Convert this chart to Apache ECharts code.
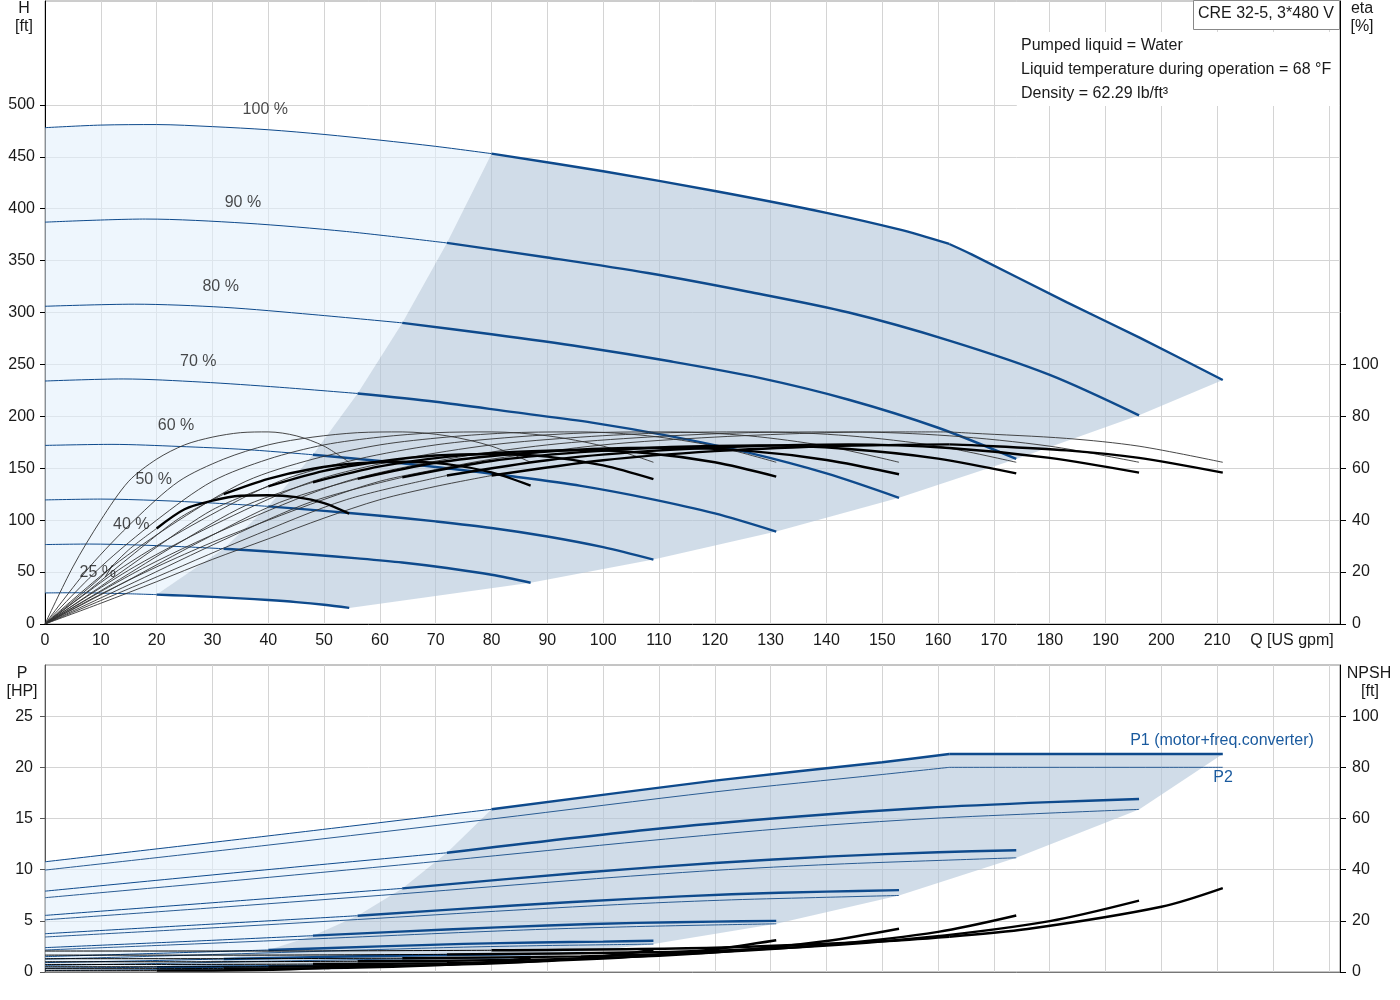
<!DOCTYPE html>
<html><head><meta charset="utf-8">
<script src="https://cdn.jsdelivr.net/npm/echarts@6/dist/echarts.min.js"></script>
<style>html,body{margin:0;padding:0;background:#fff}#c{width:1400px;height:1000px}</style>
</head><body><div id="c"></div>
<script>
// ---------- data ----------
const speedLabels = ['100 %','90 %','80 %','70 %','60 %','50 %','40 %','25 %'];
const boldStartQ  = [80, 72, 64, 56, 48, 40, 32, 20];
const powerLimitQ = 162;   // flow where the 100 % curves bend (power limit)

// top chart: head [ft] and efficiency [%] vs Q [US gpm]
const flow100     = [0,10,20,30,40,50,60,70,80,100,120,140,153,162,166,183,196,211];
const head100     = [478,480.5,481,479,476,471.5,466,460,453,436,417,396,380,366,356,310,276,235];
const etaPump100  = [0,11.5,22,31.5,40,48,55,59.5,63.5,69,72,73.7,74,74,73.5,71.5,68.5,62.3];
const etaTotal100 = [0,8,16.3,24.9,32.8,40.8,47.9,53,57.2,63.1,66.6,68.5,69,69.2,68.9,66.9,64,58.3];

const flow90 = [0,18,36,54,72,90,108,126,144,162,180,196];
const head90 = [387,390,386,378,367,353,338,320,300,273,240,201];
const etaTotal90 = [0,16.3,32.8,47.9,57.2,63.1,66.6,68.5,69.2,67.8,64,58.3];
const flow80 = [0,16,32,48,64,80,96,112,128,144,160,174];
const head80 = [306,308,305,298,290,279,267,253,237,216,189,159];
const etaTotal80 = [0,16.1,32.4,47.3,56.5,62.8,66.2,68.2,68.8,67.4,63.7,58];
const flow70 = [0,14,28,42,56,70,84,98,112,126,140,153];
const head70 = [234,236,233,228,222,214,204,194,181,165,145,121.5];
const etaTotal70 = [0,15.8,32,46.8,55.9,62.1,65.5,67.4,67.9,66.7,63.2,57.7];
const flow60 = [0,12,24,36,48,60,72,84,96,108,120,131];
const head60 = [172,173,171,168,163,157,150,142,133,121,106.5,89];
const etaTotal60 = [0,15.4,31.2,45.7,54.6,60.7,64.4,66.3,67,65.8,62.3,56.8];
const flow50 = [0,10,20,30,40,50,60,70,80,90,100,109];
const head50 = [119.5,120.3,119,116.5,113.3,109,104.3,98.8,92.5,84.3,74,62];
const etaTotal50 = [0,14.5,29.6,44,53,59,62.6,64.9,65.5,64.5,61.1,55.8];
const flow40 = [0,8,16,24,32,40,48,56,64,72,80,87];
const head40 = [76.5,77,76.2,74.6,72.5,69.8,66.7,63.2,59.2,53.9,47.4,39.7];
const etaTotal40 = [0,13.2,27.2,40.7,50,55.9,59.8,61.9,62.5,61.6,58.4,53.3];
const flow25 = [0,5,10,15,20,25,30,35,40,45,50,54.5];
const head25 = [29.9,30.1,29.8,29.1,28.3,27.3,26.1,24.7,23.1,21.1,18.5,15.5];
const etaTotal25 = [0,8.8,18,28.6,36.8,44.2,47.5,49.4,49.6,48.9,46.6,42.5];
// pump efficiency read at the same grid points of each part-speed curve
const etaPumpPart = [0,22,40,55,63.5,69,72,73.7,74,72.5,68.5,62.3];

// bottom chart: P1, P2 [HP] and NPSH [ft] vs Q
const flowP100 = [0,40,80,120,150,162,176,200,211];
const p1_100 = [10.77,13.3,15.9,18.7,20.5,21.3,21.3,21.3,21.3];
const p2_100 = [9.96,12.4,14.95,17.6,19.3,20,20,20,20];
const npsh100 = [8.2,8.2,8.5,9.5,12,13.8,16.8,25.5,32.8];
const flowP90 = [0,36,72,108,135,158,180,196];
const p1_90 = [7.9,9.8,11.65,13.9,15.2,16.05,16.6,16.9];
const p2_90 = [7.26,9.04,10.9,12.83,14.14,14.98,15.53,15.89];
const npsh90 = [6.6,6.6,6.9,7.7,9.7,13.6,19.9,27.9];
const flowP80 = [0,32,64,96,120,141,160,174];
const p1_80 = [5.53,6.85,8.17,9.7,10.65,11.3,11.7,11.9];
const p2_80 = [5.1,6.35,7.65,9.01,9.93,10.52,10.9,11.16];
const npsh80 = [5.2,5.2,5.4,6.1,7.7,10.8,15.7,22.1];
const flowP70 = [0,28,56,84,105,123,140,153];
const p1_70 = [3.74,4.62,5.5,6.5,7.15,7.6,7.85,8.0];
const p2_70 = [3.42,4.25,5.13,6.04,6.65,7.05,7.3,7.48];
const npsh70 = [4.0,4.0,4.2,4.7,5.9,8.2,12.1,16.9];
const flowP60 = [0,24,48,72,90,106,120,131];
const p1_60 = [2.38,2.95,3.55,4.15,4.55,4.8,4.92,5.0];
const p2_60 = [2.15,2.68,3.23,3.8,4.19,4.44,4.6,4.71];
const npsh60 = [2.95,2.95,3.1,3.4,4.3,6.0,8.9,12.4];
const flowP50 = [0,20,40,60,75,88,100,109];
const p1_50 = [1.5,1.82,2.15,2.5,2.75,2.88,2.97,3.05];
const p2_50 = [1.25,1.55,1.87,2.2,2.43,2.57,2.66,2.73];
const npsh50 = [2.05,2.05,2.1,2.4,3.0,4.2,6.2,8.6];
const flowP40 = [0,16,32,48,60,70,80,87];
const p1_40 = [0.92,1.08,1.27,1.45,1.57,1.65,1.7,1.75];
const p2_40 = [0.64,0.79,0.96,1.13,1.24,1.32,1.36,1.4];
const npsh40 = [1.3,1.3,1.4,1.5,1.9,2.7,3.9,5.5];
const flowP25 = [0,10,20,30,37.5,44,50,54.5];
const p1_25 = [0.38,0.42,0.47,0.52,0.55,0.57,0.59,0.6];
const p2_25 = [0.16,0.19,0.23,0.27,0.3,0.32,0.33,0.34];
const npsh25 = [0.5,0.5,0.53,0.6,0.75,1.05,1.5,2.15];

// axis tick labels
const qTickMaxLabel = 210;
const hLabels = [0,50,100,150,200,250,300,350,400,450,500];
const etaLabels = [0,20,40,60,80,100];
const pLabels = [0,5,10,15,20,25];
const npshLabels = [0,20,40,60,80,100];

// ---------- build ----------
const FONT = "'Liberation Sans', Arial, sans-serif";
const BLUE = '#0e4a8c';
const topCurves = [
  {q:flow100,h:head100,ep:etaPump100,et:etaTotal100},
  {q:flow90,h:head90,ep:etaPumpPart,et:etaTotal90},
  {q:flow80,h:head80,ep:etaPumpPart,et:etaTotal80},
  {q:flow70,h:head70,ep:etaPumpPart,et:etaTotal70},
  {q:flow60,h:head60,ep:etaPumpPart,et:etaTotal60},
  {q:flow50,h:head50,ep:etaPumpPart,et:etaTotal50},
  {q:flow40,h:head40,ep:etaPumpPart,et:etaTotal40},
  {q:flow25,h:head25,ep:etaPumpPart,et:etaTotal25}
];
const botCurves = [
  {q:flowP100,p1:p1_100,p2:p2_100,n:npsh100},
  {q:flowP90,p1:p1_90,p2:p2_90,n:npsh90},
  {q:flowP80,p1:p1_80,p2:p2_80,n:npsh80},
  {q:flowP70,p1:p1_70,p2:p2_70,n:npsh70},
  {q:flowP60,p1:p1_60,p2:p2_60,n:npsh60},
  {q:flowP50,p1:p1_50,p2:p2_50,n:npsh50},
  {q:flowP40,p1:p1_40,p2:p2_40,n:npsh40},
  {q:flowP25,p1:p1_25,p2:p2_25,n:npsh25}
];
const pairs = (q, v) => q.map((x, i) => [x, v[i]]);
const part = (q, v, f) => pairs(q, v).filter(p => f(p[0]));
const at = (q, v, x) => v[q.indexOf(x)];

function line(data, xi, yi, color, width, z, smooth) {
  return {type:'line', xAxisIndex:xi, yAxisIndex:yi, data, symbol:'none', showSymbol:false,
    smooth: smooth === undefined ? 0.3 : smooth, silent:true, z, lineStyle:{color, width}, emphasis:{disabled:true}};
}
// pushes a curve, split at the power-limit bend for the 100 % curves
function curve(i, q, v, f, xi, yi, color, width, z) {
  if (i === 0 && q.indexOf(powerLimitQ) >= 0) {
    const a = part(q, v, x => f(x) && x <= powerLimitQ), b = part(q, v, x => f(x) && x >= powerLimitQ);
    if (a.length > 1) series.push(line(a, xi, yi, color, width, z));
    if (b.length > 1) series.push(line(b, xi, yi, color, width, z));
  } else {
    series.push(line(part(q, v, f), xi, yi, color, width, z));
  }
}
function poly(points, xi, yi, color) {
  return {type:'custom', xAxisIndex:xi, yAxisIndex:yi, silent:true, z:1, data:[[0,0]],
    renderItem:(params, api) => ({type:'polygon', shape:{points: points.map(p => api.coord(p))},
      style:{fill:color}})};
}

const series = [];
// top fills
{
  const c0 = topCurves[0], c7 = topCurves[7];
  const light = part(c0.q, c0.h, x => x <= boldStartQ[0]);
  for (let i = 1; i < 8; i++) light.push([boldStartQ[i], at(topCurves[i].q, topCurves[i].h, boldStartQ[i])]);
  part(c7.q, c7.h, x => x < boldStartQ[7]).reverse().forEach(p => light.push(p));
  const dark = part(c0.q, c0.h, x => x >= boldStartQ[0]);
  for (let i = 1; i < 8; i++) { const c = topCurves[i]; dark.push([c.q[c.q.length-1], c.h[c.h.length-1]]); }
  part(c7.q, c7.h, x => x >= boldStartQ[7] && x < c7.q[c7.q.length-1]).reverse().forEach(p => dark.push(p));
  for (let i = 6; i >= 1; i--) dark.push([boldStartQ[i], at(topCurves[i].q, topCurves[i].h, boldStartQ[i])]);
  series.push(poly(light, 0, 0, 'rgba(227,240,252,0.6)'));
  series.push(poly(dark, 0, 0, 'rgba(177,197,217,0.6)'));
}
// bottom fills
{
  const c0 = botCurves[0], c7 = botCurves[7];
  const light = part(c0.q, c0.p1, x => x <= boldStartQ[0]);
  for (let i = 1; i < 8; i++) light.push([boldStartQ[i], at(botCurves[i].q, botCurves[i].p1, boldStartQ[i])]);
  part(c7.q, c7.p1, x => x < boldStartQ[7]).reverse().forEach(p => light.push(p));
  const dark = part(c0.q, c0.p1, x => x >= boldStartQ[0]);
  for (let i = 1; i < 8; i++) { const c = botCurves[i]; dark.push([c.q[c.q.length-1], c.p2[c.p2.length-1]]); }
  part(c7.q, c7.p2, x => x >= boldStartQ[7] && x < c7.q[c7.q.length-1]).reverse().forEach(p => dark.push(p));
  for (let i = 7; i >= 1; i--) dark.push([boldStartQ[i], at(botCurves[i].q, botCurves[i].p1, boldStartQ[i])]);
  series.push(poly(light, 1, 2, 'rgba(227,240,252,0.6)'));
  series.push(poly(dark, 1, 2, 'rgba(177,197,217,0.6)'));
}
// curves
const labelPts = [];
topCurves.forEach((c, i) => {
  const s = boldStartQ[i];
  curve(i, c.q, c.h, x => x <= s, 0, 0, BLUE, 1, 3);
  curve(i, c.q, c.h, x => x >= s, 0, 0, BLUE, 2.4, 3);
  curve(i, c.q, c.ep, x => true, 0, 1, '#333', 0.9, 4);
  curve(i, c.q, c.et, x => x <= s, 0, 1, '#333', 0.9, 4);
  curve(i, c.q, c.et, x => x >= s, 0, 1, '#000', 2.4, 5);
  const lq = s / 2;
  labelPts.push({value:[lq, at(c.q, c.h, lq)], name:speedLabels[i]});
});
botCurves.forEach((c, i) => {
  const s = boldStartQ[i];
  curve(i, c.q, c.p1, x => x <= s, 1, 2, BLUE, 1, 3);
  curve(i, c.q, c.p1, x => x >= s, 1, 2, BLUE, 2.4, 3);
  curve(i, c.q, c.p2, x => true, 1, 2, '#2a5c93', 1, 3);
  curve(i, c.q, c.n, x => x <= s, 1, 3, '#000', 1, 4);
  curve(i, c.q, c.n, x => x >= s, 1, 3, '#000', 2.4, 4);
});
series.push({type:'scatter', xAxisIndex:0, yAxisIndex:0, data:labelPts, symbolSize:1, silent:true, z:6,
  itemStyle:{color:'rgba(0,0,0,0)'},
  label:{show:true, position:'top', distance:6, offset:[-3,-6], formatter:p => p.name,
    fontSize:16, fontFamily:FONT, color:'#1a1a1a'}});

const txt = (x, y, text, opt = {}) => ({type:'text', x, y: y + 2, z:100,
  style:Object.assign({text, font:'16px ' + FONT, fill:'#1a1a1a', textAlign:'center', textVerticalAlign:'middle'}, opt)});

const yBase = (min, max, interval, pos, labels, lineColor, split, margin, tickLen) => ({
  type:'value', min, max, interval, position:pos,
  axisLine:{show:true, lineStyle:{color:lineColor, width:1}},
  axisTick:{show:true, inside:false, length:tickLen, customValues:labels, lineStyle:{color:lineColor}},
  axisLabel:{customValues:labels, formatter:v => (labels.indexOf(v) >= 0 ? String(v) : ''),
    fontSize:16, fontFamily:FONT, color:'#1a1a1a', margin},
  splitLine:{show:split, lineStyle:{color:'#d4d4d4', width:1}}
});

const option = {
  animation:false,
  backgroundColor:'#fff',
  grid:[
    {left:45, right:60, top:1, height:623, show:true, borderColor:'#9a9a9a', borderWidth:1, backgroundColor:'transparent'},
    {left:45, right:60, top:665, height:307, show:true, borderColor:'#8a8a8a', borderWidth:1, backgroundColor:'transparent'}
  ],
  xAxis:[
    {gridIndex:0, type:'value', min:0, max:232, interval:10,
     axisLine:{lineStyle:{color:'#000'}}, axisTick:{show:false},
     axisLabel:{formatter:v => (v <= qTickMaxLabel && v % 10 === 0 ? String(v) : ''), fontSize:16, fontFamily:FONT, color:'#1a1a1a', margin:9},
     splitLine:{show:true, lineStyle:{color:'#d4d4d4'}}},
    {gridIndex:1, type:'value', min:0, max:232, interval:10,
     axisLine:{lineStyle:{color:'#777'}}, axisTick:{show:false}, axisLabel:{show:false},
     splitLine:{show:true, lineStyle:{color:'#d4d4d4'}}}
  ],
  yAxis:[
    Object.assign({gridIndex:0}, yBase(0, 600, 50, 'left', hLabels, '#000', true, 10, 5)),
    Object.assign({gridIndex:0}, yBase(0, 240, 20, 'right', etaLabels, '#000', false, 12, 6)),
    Object.assign({gridIndex:1}, yBase(0, 30, 5, 'left', pLabels, '#555', true, 12, 5)),
    Object.assign({gridIndex:1}, yBase(0, 120, 20, 'right', npshLabels, '#000', false, 12, 6))
  ],
  series,
  graphic:[
    txt(24, 7, 'H'), txt(24, 25, '[ft]'),
    txt(1362, 7, 'eta'), txt(1362, 25, '[%]'),
    txt(22, 672, 'P'), txt(22, 690, '[HP]'),
    txt(1369, 672, 'NPSH'), txt(1370, 690, '[ft]'),
    txt(1292, 639, 'Q [US gpm]'),
    {type:'rect', z:99, shape:{x:1017, y:32, width:322, height:74}, style:{fill:'#fff'}},
    txt(1021, 44, 'Pumped liquid = Water', {textAlign:'left'}),
    txt(1021, 68, 'Liquid temperature during operation = 68 °F', {textAlign:'left'}),
    txt(1021, 92, 'Density = 62.29 lb/ft³', {textAlign:'left'}),
    {type:'rect', z:99, shape:{x:1193.5, y:0.5, width:146, height:29}, style:{fill:'#fff', stroke:'#888', lineWidth:1}},
    txt(1266, 12, 'CRE 32-5, 3*480 V'),
    txt(1222, 739, 'P1 (motor+freq.converter)', {fill:'#1a5a9e'}),
    txt(1223, 776, 'P2', {fill:'#1a5a9e'})
  ]
};
const chart = echarts.init(document.getElementById('c'), null, {renderer:'canvas'});
chart.setOption(option);
</script>
</body></html>
